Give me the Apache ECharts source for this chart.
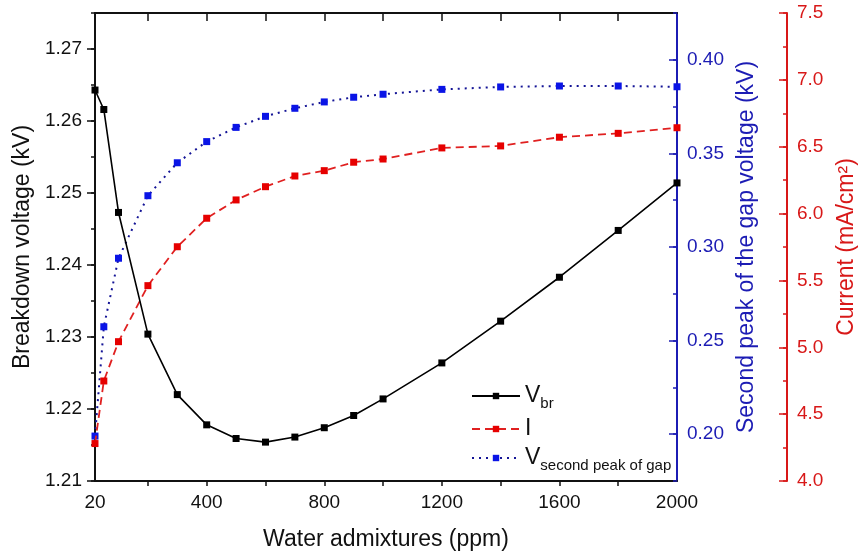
<!DOCTYPE html>
<html>
<head>
<meta charset="utf-8">
<script src="https://cdn.jsdelivr.net/npm/echarts@6/dist/echarts.min.js"></script>
<style>
html,body{margin:0;padding:0;background:#fff;}
#chart{width:860px;height:558px;}
</style>
</head>
<body>
<div id="chart"></div>
<script>
const waterPpm = [20, 50, 100, 200, 300, 400, 500, 600, 700, 800, 900, 1000, 1200, 1400, 1600, 1800, 2000];
const breakdownVoltage = [1.2643, 1.2616, 1.2473, 1.2304, 1.2220, 1.2178, 1.2159, 1.2154, 1.2161, 1.2174, 1.2191, 1.2214, 1.2264, 1.2322, 1.2383, 1.2448, 1.2514];
const currentDensity = [4.28, 4.748, 5.042, 5.461, 5.752, 5.965, 6.102, 6.201, 6.281, 6.321, 6.384, 6.408, 6.491, 6.506, 6.571, 6.600, 6.642];
const secondPeak = [0.199, 0.2574, 0.2940, 0.3274, 0.3450, 0.3563, 0.3639, 0.3698, 0.3741, 0.3775, 0.3800, 0.3816, 0.3842, 0.3855, 0.3860, 0.3860, 0.3856];
const xLabelValues = [20, 400, 800, 1200, 1600, 2000];
const xTickValues = [200, 400, 600, 800, 1000, 1200, 1400, 1600, 1800];
const leftLabelValues = [1.21, 1.22, 1.23, 1.24, 1.25, 1.26, 1.27];
const blueLabelValues = [0.20, 0.25, 0.30, 0.35, 0.40];
const redLabelValues = [4.0, 4.5, 5.0, 5.5, 6.0, 6.5, 7.0, 7.5];

const FONT = "'Liberation Sans', Arial, sans-serif";
const BLUE = '#1c1cb4';
const RED = '#d81818';
const pairs = arr => waterPpm.map((x, i) => [x, arr[i]]);

function minorAxis(min, max, interval, position, offset, color) {
  return {
    type: 'value', min: min, max: max, interval: interval, position: position, offset: offset,
    axisLine: {show: false},
    axisTick: {show: true, inside: position === 'right', length: 4, lineStyle: {color: color, width: 1.5}},
    axisLabel: {show: false},
    splitLine: {show: false}
  };
}

const chart = echarts.init(document.getElementById('chart'));
chart.setOption({
  animation: false,
  backgroundColor: '#fff',
  textStyle: {fontFamily: FONT},
  grid: {left: 95, right: 183, top: 13, bottom: 77, containLabel: false, outerBoundsMode: 'none'},
  xAxis: [{
    type: 'value', min: 20, max: 2000, position: 'bottom',
    name: 'Water admixtures (ppm)', nameLocation: 'middle', nameGap: 47,
    nameTextStyle: {fontSize: 23, color: '#111', fontFamily: FONT},
    axisLine: {lineStyle: {color: '#111', width: 2}},
    axisTick: {show: true, inside: false, length: 5, customValues: xTickValues, lineStyle: {color: '#111', width: 1.5}},
    axisLabel: {customValues: xLabelValues, fontSize: 19, color: '#111', margin: 12, fontFamily: FONT,
      formatter: v => String(v)},
    splitLine: {show: false}
  }, {
    type: 'value', min: 20, max: 2000, position: 'top',
    axisLine: {lineStyle: {color: '#111', width: 2}},
    axisTick: {show: true, inside: true, length: 8, customValues: xTickValues, lineStyle: {color: '#111', width: 1.5}},
    axisLabel: {show: false},
    splitLine: {show: false}
  }],
  yAxis: [{
    type: 'value', min: 1.21, max: 1.275, interval: 0.005, position: 'left',
    name: 'Breakdown voltage (kV)', nameLocation: 'middle', nameGap: 61, nameRotate: 90,
    nameTextStyle: {fontSize: 23, color: '#111', fontFamily: FONT},
    axisLine: {show: true, lineStyle: {color: '#111', width: 2}},
    axisTick: {show: true, inside: false, length: 8, customValues: leftLabelValues, lineStyle: {color: '#111', width: 1.5}},
    axisLabel: {customValues: leftLabelValues, fontSize: 19, color: '#111', margin: 13, fontFamily: FONT,
      formatter: v => v.toFixed(2)},
    splitLine: {show: false}
  }, {
    type: 'value', min: 0.175, max: 0.425, interval: 0.025, position: 'right', offset: 0,
    name: 'Second peak of the gap voltage (kV)', nameLocation: 'middle', nameGap: 57, nameRotate: 90,
    nameTextStyle: {fontSize: 23, color: BLUE, fontFamily: FONT},
    axisLine: {show: true, lineStyle: {color: BLUE, width: 2}},
    axisTick: {show: true, inside: true, length: 8, customValues: blueLabelValues, lineStyle: {color: BLUE, width: 1.5}},
    axisLabel: {customValues: blueLabelValues, fontSize: 19, color: BLUE, margin: 10, fontFamily: FONT,
      formatter: v => v.toFixed(2)},
    splitLine: {show: false}
  }, {
    type: 'value', min: 4.0, max: 7.5, interval: 0.25, position: 'right', offset: 110,
    name: 'Current (mA/cm²)', nameLocation: 'middle', nameGap: 48, nameRotate: 90,
    nameTextStyle: {fontSize: 23, color: RED, fontFamily: FONT},
    axisLine: {show: true, lineStyle: {color: RED, width: 2}},
    axisTick: {show: true, inside: true, length: 8, customValues: redLabelValues, lineStyle: {color: RED, width: 1.5}},
    axisLabel: {customValues: redLabelValues, fontSize: 19, color: RED, margin: 10, fontFamily: FONT,
      formatter: v => v.toFixed(1)},
    splitLine: {show: false}
  },
  minorAxis(1.21, 1.275, 0.005, 'left', 0, '#111'),
  minorAxis(0.175, 0.425, 0.025, 'right', 0, BLUE),
  minorAxis(4.0, 7.5, 0.25, 'right', 110, RED)
  ],
  legend: {
    orient: 'vertical', left: 466, top: 379, itemWidth: 48, itemHeight: 8, itemGap: 6,
    data: ['Vbr', 'I', 'Vsec'],
    formatter: name => {
      if (name === 'Vbr') return '{v|V}{s|br}';
      if (name === 'I') return '{v|I}';
      return '{v|V}{s|second peak of gap}';
    },
    textStyle: {
      rich: {
        v: {fontSize: 23, color: '#111', fontFamily: FONT, lineHeight: 24, verticalAlign: 'top'},
        s: {fontSize: 15, color: '#111', fontFamily: FONT, lineHeight: 15, verticalAlign: 'top', padding: [12, 0, 0, 0]}
      }
    }
  },
  series: [{
    name: 'Vbr', type: 'line', xAxisIndex: 0, yAxisIndex: 0, z: 4,
    data: pairs(breakdownVoltage),
    symbol: 'rect', symbolSize: 7,
    itemStyle: {color: '#000'},
    lineStyle: {color: '#000', width: 1.6, type: 'solid'}
  }, {
    name: 'I', type: 'line', xAxisIndex: 0, yAxisIndex: 2, z: 3,
    data: pairs(currentDensity),
    symbol: 'rect', symbolSize: 7,
    itemStyle: {color: '#e60000'},
    lineStyle: {color: '#e02020', width: 1.8, type: [8, 5]}
  }, {
    name: 'Vsec', type: 'line', xAxisIndex: 0, yAxisIndex: 1, z: 2,
    data: pairs(secondPeak),
    symbol: 'rect', symbolSize: 7,
    itemStyle: {color: '#0a14e6'},
    lineStyle: {color: '#141496', width: 2, type: [2, 5]}
  }]
});
</script>
</body>
</html>
